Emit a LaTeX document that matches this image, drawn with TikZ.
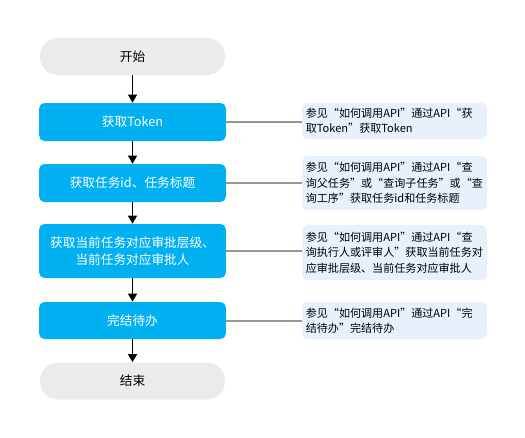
\documentclass[tikz,border=0pt]{standalone}
\usepackage{fontspec}
\setmainfont{Noto Sans CJK SC}
\usetikzlibrary{arrows.meta}
\definecolor{stepblue}{RGB}{0,176,240}
\definecolor{termgray}{RGB}{235,235,235}
\definecolor{notefill}{RGB}{232,240,254}
\definecolor{linkgray}{RGB}{150,150,150}
\tikzset{
  termbox/.style={fill=termgray, draw=none, rounded corners=13.5pt, minimum width=138.75pt, minimum height=27.75pt, inner sep=0pt, font=\fontsize{9.5pt}{12pt}\selectfont, text=black},
  stepbox/.style={fill=stepblue, draw=none, rounded corners=4pt, minimum width=140pt, inner sep=0pt, font=\fontsize{9.5pt}{13pt}\selectfont, text=white, align=center},
  notebox/.style={fill=notefill, draw=none, rounded corners=4.5pt, minimum width=138.75pt, inner sep=0pt, font=\fontsize{8.3pt}{11.5pt}\selectfont, text=black, align=left, text width=133pt},
  flowarrow/.style={draw=black, line width=1.4pt, -{Triangle[length=6pt,width=6.5pt]}},
  notelink/.style={draw=linkgray, line width=1.5pt},
}
\begin{document}
\begin{tikzpicture}[x=0.75pt,y=-0.75pt]
\useasboundingbox (0,0) rectangle (525,437);
\node[termbox] (start) at (132.5,56.5) {开始};
\node[stepbox, minimum height=28.5pt] (token) at (132.5,122) {获取Token};
\node[stepbox, minimum height=28.5pt] (task) at (132.5,183) {获取任务id、任务标题};
\node[stepbox, minimum height=40.5pt] (level) at (132.5,251) {获取当前任务对应审批层级、\\当前任务对应审批人};
\node[stepbox, minimum height=27.75pt] (done) at (132.5,320.5) {完结待办};
\node[termbox] (end) at (132.5,381) {结束};

\node[notebox, minimum height=27pt] (n1) at (394.5,121) {参见“如何调用API”通过API“获\\取Token”获取Token};
\node[notebox, minimum height=40.5pt] (n2) at (394.5,183) {参见“如何调用API”通过API“查\\询父任务”或“查询子任务”或“查\\询工序”获取任务id和任务标题};
\node[notebox, minimum height=41.25pt] (n3) at (394.5,252.5) {参见“如何调用API”通过API“查\\询执行人或评审人”获取当前任务对\\应审批层级、当前任务对应审批人};
\node[notebox, minimum height=27.75pt] (n4) at (394.5,320.5) {参见“如何调用API”通过API“完\\结待办”完结待办};

\draw[flowarrow] (start) -- (token);
\draw[flowarrow] (token) -- (task);
\draw[flowarrow] (task) -- (level);
\draw[flowarrow] (level) -- (done);
\draw[flowarrow] (done) -- (end);

\draw[notelink] (token.east) -- (token.east -| n1.west);
\draw[notelink] (task.east) -- (task.east -| n2.west);
\draw[notelink] (level.east) -- (level.east -| n3.west);
\draw[notelink] (done.east) -- (done.east -| n4.west);
\end{tikzpicture}
\end{document}
